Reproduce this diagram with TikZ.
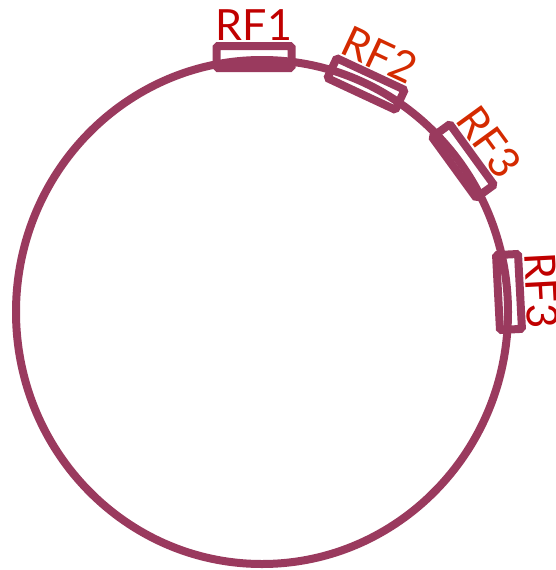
\documentclass[tikz,border=0pt]{standalone}
\usepackage{fontspec}
\setmainfont{Lato}
\usepackage{xcolor}
\usetikzlibrary{positioning}
\definecolor{ringcol}{HTML}{9A3A5E}
\definecolor{rfdark}{HTML}{C00000}
\definecolor{rforange}{HTML}{D42A00}

\begin{document}
\begin{tikzpicture}[x=1pt,y=-1pt,
    ring/.style={draw=ringcol,line width=8pt},
    rfbox/.style={draw=ringcol,line width=8pt,minimum width=75pt,minimum height=22pt,
      inner sep=0pt,rounded corners=1.5pt},
    rflabel/.style={anchor=south,inner sep=1.5pt,font=\fontsize{43}{48}\selectfont}]
  \useasboundingbox (0,0) rectangle (556,570);
  \clip (0,0) rectangle (556,570);
  % ring
  \draw[ring] (262,312) ellipse [x radius=246,y radius=252];
  % boxes on the ring
  \node[rfbox] (rfa) at (254,57) {};
  \node[rfbox,rotate=-25] (rfb) at (366,84) {};
  \node[rfbox,rotate=-54] (rfc) at (463,161) {};
  \node[rfbox,rotate=-87] (rfd) at (509,292) {};
  % labels
  \node[rflabel,rfdark] (lbla) at (rfa.north) {RF1};
  \node[rflabel,rforange,rotate=-25] (lblb) at (rfb.north) {RF2};
  \node[rflabel,rforange,rotate=-54] (lblc) at (rfc.north) {RF3};
  \node[rflabel,rfdark,rotate=-87] (lbld) at (rfd.north) {RF3};
\end{tikzpicture}
\end{document}
